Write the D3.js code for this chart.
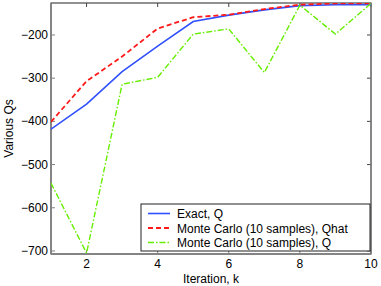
<!DOCTYPE html>
<html>
<head>
<meta charset="utf-8">
<script src="https://cdn.jsdelivr.net/npm/d3@7"></script>
<style>
  body { margin: 0; background: #fff; }
  svg { font-family: "Liberation Sans", Arial, sans-serif; }
</style>
</head>
<body>
<div id="chart"></div>
<script>
var iterations = [1, 2, 3, 4, 5, 6, 7, 8, 9, 10];
var exactQ = [-418, -360, -285, -226, -169, -154, -142, -132, -130, -130];
var mcQhat = [-401, -307, -250, -185, -159, -153, -140, -130, -127, -127];
var mcQ = [-543, -705, -314, -298, -198, -186, -287, -131, -198, -127];
var xTicks = [2, 4, 6, 8, 10];
var yTicks = [-700, -600, -500, -400, -300, -200];
var seriesNames = ['Exact, Q', 'Monte Carlo (10 samples), Qhat', 'Monte Carlo (10 samples), Q'];

var width = 381,
  height = 286,
  margin = { top: 3, right: 10, bottom: 32, left: 51 };

var series = [
  { name: seriesNames[0], values: exactQ, colour: '#3050ff', dash: null, w: 1.6 },
  { name: seriesNames[1], values: mcQhat, colour: '#ff1a1a', dash: '5,3', w: 1.8 },
  { name: seriesNames[2], values: mcQ, colour: '#66ee00', dash: '6,2,1.5,2', w: 1.4 }
];

var svg = d3.select('#chart')
  .append('svg')
  .attr('width', width)
  .attr('height', height);

var x = d3.scaleLinear()
  .domain([1, 10])
  .range([margin.left, width - margin.right]);

var y = d3.scaleLinear()
  .domain([-707, -126])
  .range([height - margin.bottom, margin.top]);

var axisColour = '#808080';

// frame
svg.append('rect')
  .attr('x', x(1))
  .attr('y', y(-126))
  .attr('width', x(10) - x(1))
  .attr('height', y(-707) - y(-126))
  .attr('fill', 'none')
  .attr('stroke', '#222')
  .attr('stroke-width', 1);

// inward ticks on all four sides
xTicks.forEach(function(t) {
  svg.append('line').attr('x1', x(t)).attr('x2', x(t))
    .attr('y1', y(-707)).attr('y2', y(-707) - 4).attr('stroke', axisColour);
  svg.append('line').attr('x1', x(t)).attr('x2', x(t))
    .attr('y1', y(-126)).attr('y2', y(-126) + 4).attr('stroke', '#444');
  svg.append('text')
    .attr('x', x(t)).attr('y', 268)
    .attr('text-anchor', 'middle')
    .attr('font-size', '12px')
    .text(t);
});

yTicks.forEach(function(t) {
  svg.append('line').attr('x1', x(1)).attr('x2', x(1) + 4)
    .attr('y1', y(t)).attr('y2', y(t)).attr('stroke', axisColour);
  svg.append('line').attr('x1', x(10)).attr('x2', x(10) - 4)
    .attr('y1', y(t)).attr('y2', y(t)).attr('stroke', '#444');
  svg.append('text')
    .attr('x', x(1) - 3).attr('y', y(t) + 4)
    .attr('text-anchor', 'end')
    .attr('font-size', '12px')
    .text(d3.format('d')(t).replace('-', '\u2212'));
});

// left and bottom axes, drawn grey and a bit thicker
svg.append('line').attr('x1', x(1)).attr('x2', x(1))
  .attr('y1', y(-126)).attr('y2', y(-707))
  .attr('stroke', axisColour).attr('stroke-width', 1.5);
svg.append('line').attr('x1', x(1)).attr('x2', x(10))
  .attr('y1', y(-707)).attr('y2', y(-707))
  .attr('stroke', axisColour).attr('stroke-width', 1.5);
svg.append('line').attr('x1', x(10)).attr('x2', x(10))
  .attr('y1', y(-126)).attr('y2', y(-707))
  .attr('stroke', axisColour).attr('stroke-width', 1.2);

var line = d3.line()
  .x(function(d, i) { return x(iterations[i]); })
  .y(function(d) { return y(d); });

svg.append('clipPath').attr('id', 'plot-clip')
  .append('rect')
  .attr('x', x(1)).attr('y', y(-126))
  .attr('width', x(10) - x(1)).attr('height', y(-707) - y(-126));

series.forEach(function(s) {
  svg.append('path')
    .datum(s.values)
    .attr('d', line)
    .attr('fill', 'none')
    .attr('stroke', s.colour)
    .attr('stroke-width', s.w)
    .attr('stroke-dasharray', s.dash)
    .attr('clip-path', 'url(#plot-clip)');
});

// axis labels
svg.append('text')
  .attr('x', (x(1) + x(10)) / 2)
  .attr('y', 283)
  .attr('text-anchor', 'middle')
  .attr('font-size', '12px')
  .text('Iteration, k');

svg.append('text')
  .attr('transform', 'translate(13,' + ((y(-126) + y(-707)) / 2) + ') rotate(-90)')
  .attr('text-anchor', 'middle')
  .attr('font-size', '12px')
  .text('Various Qs');

// legend
var legend = svg.append('g').attr('transform', 'translate(141,204)');
legend.append('rect')
  .attr('width', 229).attr('height', 47)
  .attr('fill', '#fff')
  .attr('stroke', '#222')
  .attr('stroke-width', 1);

series.forEach(function(s, i) {
  var ly = 9.5 + i * 14.5;
  legend.append('line')
    .attr('x1', 7).attr('x2', 29)
    .attr('y1', ly).attr('y2', ly)
    .attr('stroke', s.colour)
    .attr('stroke-width', s.w)
    .attr('stroke-dasharray', s.dash);
  legend.append('text')
    .attr('x', 36).attr('y', ly + 4.5)
    .attr('font-size', '12px')
    .text(s.name);
});
</script>
</body>
</html>
